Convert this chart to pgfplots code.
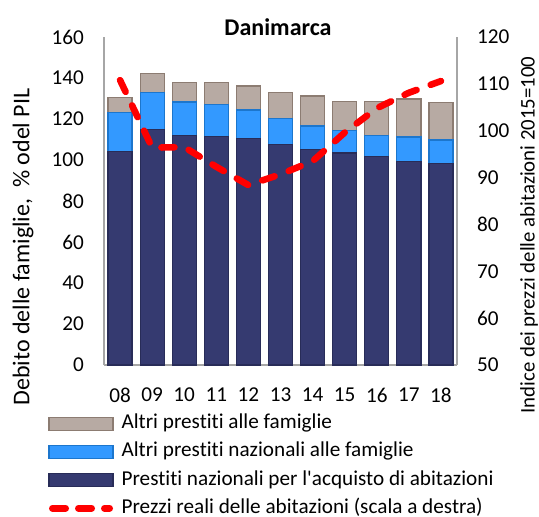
\documentclass[border=0pt]{standalone}
\usepackage{fontspec}
\setmainfont{Carlito}[Ligatures={NoCommon}]
\usepackage{pgfplots}
\pgfplotsset{compat=1.18}
\usetikzlibrary{calc}
\definecolor{cgray}{RGB}{183,170,163}
\definecolor{cgrayd}{RGB}{140,124,114}
\definecolor{cblue}{RGB}{51,153,255}
\definecolor{cblued}{RGB}{28,118,205}
\definecolor{cnavy}{RGB}{53,58,112}
\definecolor{cnavyd}{RGB}{40,44,88}
\definecolor{axgray}{RGB}{166,166,166}
\begin{document}
\begin{tikzpicture}[font=\fontsize{10.6}{12.6}\selectfont]
\begin{axis}[name=main, scale only axis, width=176.5pt, height=164pt,
 xmin=-0.5, xmax=10.5, ymin=0, ymax=160, ytick={0,20,...,160},
 xtick={0,...,10}, xticklabels={08,09,10,11,12,13,14,15,16,17,18},
 ybar stacked, bar width=0.75,
 axis y line*=left, axis x line*=bottom,
 axis line style={axgray, line width=0.6pt}, major tick length=0pt,
 /pgf/number format/assume math mode=true,
 yticklabel style={xshift=-6.5pt},
 xticklabel style={yshift=-8pt},
]
\addplot[fill=cnavy, draw=cnavyd, line width=0.6pt] coordinates {(0,104) (1,114.8) (2,111.9) (3,111.6) (4,110.4) (5,107.5) (6,105) (7,103.4) (8,101.6) (9,99.2) (10,98.4)};
\addplot[fill=cblue, draw=cblued, line width=0.6pt] coordinates {(0,19) (1,18.2) (2,16.4) (3,15.4) (4,14) (5,12.8) (6,11.6) (7,11.1) (8,10.3) (9,12) (10,11.4)};
\addplot[fill=cgray, draw=cgrayd, line width=0.6pt] coordinates {(0,7.4) (1,9.3) (2,9.7) (3,11) (4,11.7) (5,12.7) (6,14.6) (7,14.1) (8,16.7) (9,18.6) (10,18.2)};
\end{axis}
\begin{axis}[scale only axis, width=176.5pt, height=164pt,
 xmin=-0.5, xmax=10.5, ymin=50, ymax=120, ytick={50,60,...,120},
 axis y line*=right, axis x line=none,
 axis line style={axgray, line width=0.6pt}, major tick length=0pt,
 /pgf/number format/assume math mode=true,
 yticklabel style={xshift=6.5pt},
 legend style={at={(-0.1586,-0.147)}, anchor=north west, draw=none, fill=none,
   inner sep=0pt, row sep=4.1pt,
   nodes={text height=7.5pt, text depth=2.5pt, inner ysep=0pt, inner xsep=4pt}},
 legend cell align=left,
]
\addlegendimage{legend image code/.code={\draw[fill=cgray,draw=cgrayd,line width=0.6pt] (0pt,-3.25pt) rectangle (32pt,3.25pt);}}
\addlegendentry{Altri prestiti alle famiglie}
\addlegendimage{legend image code/.code={\draw[fill=cblue,draw=cblued,line width=0.6pt] (0pt,-3.25pt) rectangle (32pt,3.25pt);}}
\addlegendentry{Altri prestiti nazionali alle famiglie}
\addlegendimage{legend image code/.code={\draw[fill=cnavy,draw=cnavyd,line width=0.6pt] (0pt,-3.25pt) rectangle (32pt,3.25pt);}}
\addlegendentry{Prestiti nazionali per l\textquotesingle acquisto di abitazioni}
\addplot[red, line width=3.3pt, dash pattern=on 6.5pt off 7.5pt, line cap=round,
  legend image code/.code={\draw[red, line width=3.5pt, dash pattern=on 6.5pt off 6.5pt, line cap=round] (1.75pt,0pt) -- (30.25pt,0pt);}]
  coordinates {(0,110.8) (1,96.4) (2,96.5) (3,92.3) (4,88.4) (5,90.7) (6,93.5) (7,99.6) (8,104.8) (9,108.1) (10,110.6)};
\addlegendentry{Prezzi reali delle abitazioni (scala a destra)}
\end{axis}
\node[font=\bfseries\fontsize{12}{14}\selectfont] at ($(main.north)+(-1.25pt,5pt)$) {Danimarca};
\node[rotate=90, font=\fontsize{12}{14}\selectfont] at ($(main.south west)+(-40.5pt,59pt)$) {Debito delle famiglie,\ \ \% odel PIL};
\node[rotate=90, font=\fontsize{10.4}{12.6}\selectfont] at ($(main.south east)+(36pt,65pt)$) {Indice dei prezzi delle abitazioni 2015=100};
\pgfresetboundingbox
\path ($(main.south west)+(-52pt,-75.5pt)$) rectangle ($(main.north east)+(41pt,18.5pt)$);
\end{tikzpicture}
\end{document}
